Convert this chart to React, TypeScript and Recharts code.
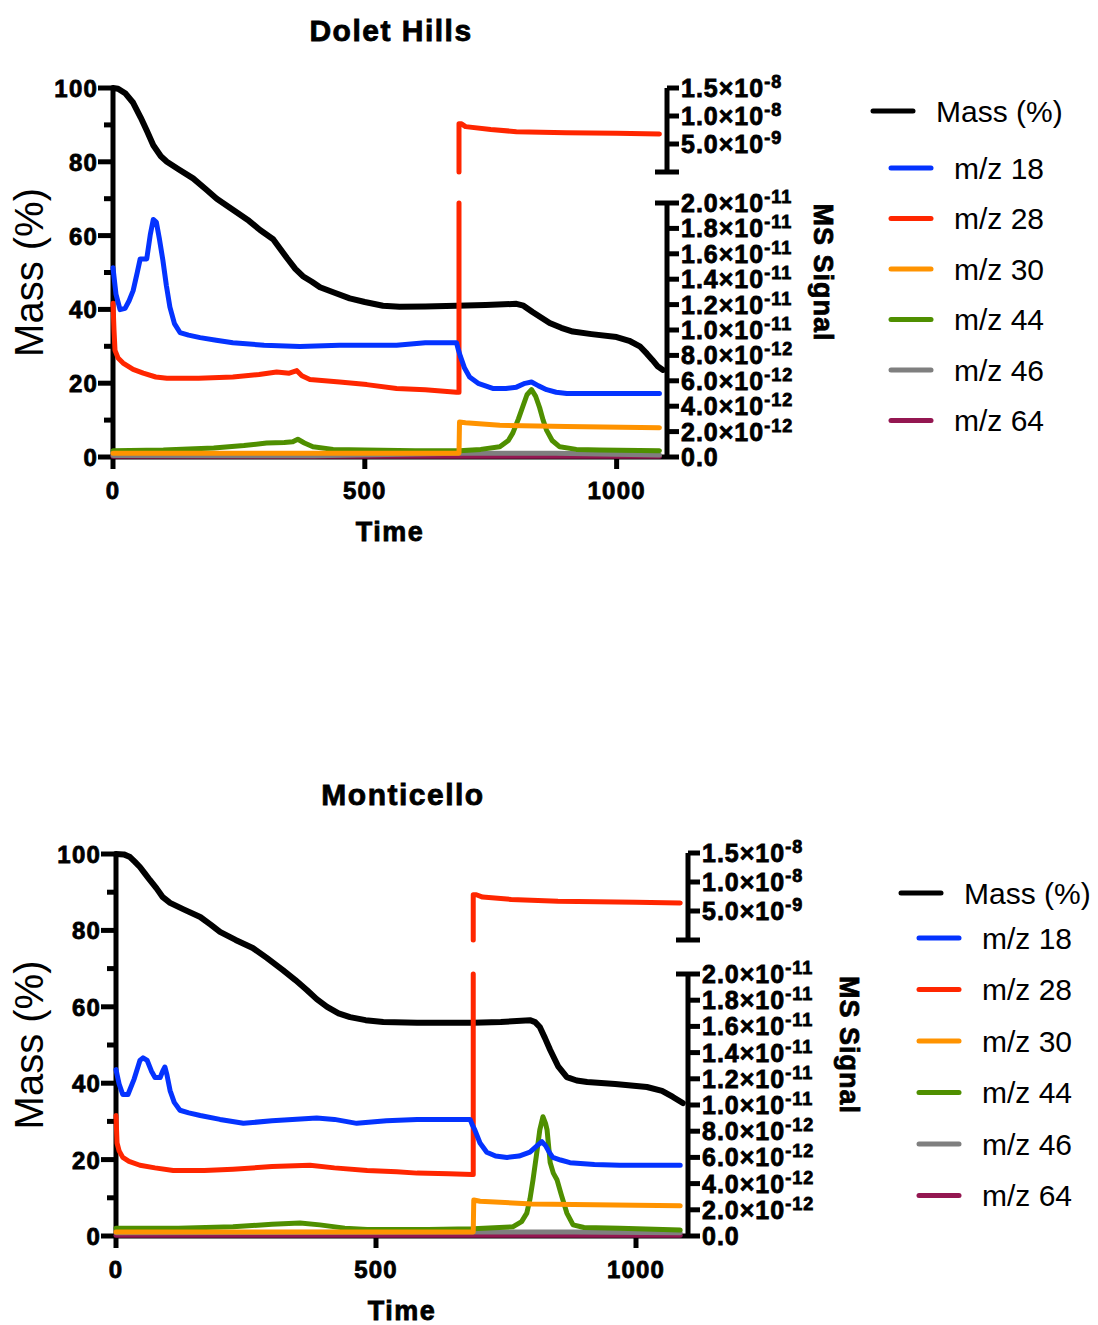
import React from 'react';
import { LineChart, Line, XAxis, YAxis } from 'recharts';

type Row = [number, number];
type Pt = { t: number; v: number };

const FONT = '"Liberation Sans", Arial, Helvetica, sans-serif';

// axis values
const timeTicks = [0, 500, 1000];
const massTicks = [0, 10, 20, 30, 40, 50, 60, 70, 80, 90, 100];
const lowTicks = [0, 2, 4, 6, 8, 10, 12, 14, 16, 18, 20]; // x 1e-12
const highTicks = [0, 5, 10, 15]; // x 1e-9
const LOW_UNIT = 1e-12;
const HIGH_UNIT = 1e-9;

const legendNames = ['Mass (%)', 'm/z 18', 'm/z 28', 'm/z 30', 'm/z 44', 'm/z 46', 'm/z 64'];
const legendColors = ['#000000', '#0433FF', '#FF2600', '#FF9300', '#4F8F00', '#7F7F7F', '#941751'];

// ---- Dolet Hills ----  (time, value)
const doletMass: Row[] = [
  [0, 100], [10, 99.8], [25, 98.5], [40, 96], [55, 92], [67, 88.5], [80, 84.5], [95, 81.5], [107, 80],
  [130, 78], [159, 75.5], [185, 72.5], [206, 70], [238, 67], [270, 64], [292, 61.5], [318, 59], [345, 54],
  [362, 51], [377, 49], [395, 47.5], [411, 46], [440, 44.5], [470, 43], [500, 42], [536, 41], [569, 40.7],
  [620, 40.8], [682, 41], [740, 41.2], [801, 41.5], [815, 41], [833, 39.3], [850, 37.8], [867, 36.3],
  [890, 35], [913, 34], [950, 33.3], [1000, 32.5], [1025, 31.5], [1046, 30], [1060, 28], [1071, 26.3],
  [1082, 24.5], [1092, 23.6],
];
const doletM18: Row[] = [
  [0, 14.9], [6, 12.8], [14, 11.6], [24, 11.7], [32, 12.3], [40, 13.1], [48, 14.5], [54, 15.6], [62, 15.6],
  [67, 15.6], [74, 17.5], [80, 18.7], [86, 18.5], [92, 17.2], [99, 15.5], [106, 13.5], [113, 11.8],
  [122, 10.5], [133, 9.8], [150, 9.6], [173, 9.4], [205, 9.2], [238, 9.0], [300, 8.8], [371, 8.7],
  [450, 8.8], [563, 8.8], [620, 9.0], [682, 9.0], [686, 8.4], [690, 7.9], [698, 7.0], [708, 6.3],
  [725, 5.8], [754, 5.4], [780, 5.4], [801, 5.5], [818, 5.8], [831, 5.9], [845, 5.6], [861, 5.3],
  [880, 5.1], [901, 5.0], [1000, 5.0], [1085, 5.0],
];
const doletM28Low: Row[] = [
  [0, 12.1], [2, 10], [4, 8.4], [10, 7.8], [20, 7.4], [40, 6.9], [60, 6.6], [85, 6.3], [107, 6.2],
  [170, 6.2], [238, 6.3], [290, 6.5], [325, 6.7], [350, 6.6], [365, 6.8], [375, 6.4], [391, 6.1],
  [450, 5.9], [504, 5.7], [563, 5.4], [620, 5.3], [682, 5.1], [687, 5.1], [687, 20],
];
const doletM28High: Row[] = [
  [687, 0], [687, 8.6], [692, 8.6], [700, 8.1], [750, 7.6], [801, 7.2], [900, 7.0], [1000, 6.9], [1085, 6.8],
];
const doletM30: Row[] = [
  [0, 0.3], [300, 0.3], [687, 0.3], [688, 2.75], [700, 2.7], [768, 2.5], [900, 2.4], [1085, 2.3],
];
const doletM44: Row[] = [
  [0, 0.5], [100, 0.55], [200, 0.7], [260, 0.9], [305, 1.1], [340, 1.15], [357, 1.2], [367, 1.4],
  [380, 1.1], [397, 0.8], [437, 0.6], [500, 0.55], [600, 0.5], [688, 0.5], [730, 0.6], [768, 0.8],
  [785, 1.3], [794, 1.9], [805, 3.0], [813, 3.9], [822, 4.9], [831, 5.3], [839, 4.8], [847, 3.9],
  [854, 2.9], [861, 2.1], [872, 1.3], [887, 0.8], [920, 0.6], [966, 0.55], [1085, 0.5],
];
const doletM46: Row[] = [[0, 0.12], [400, 0.1], [688, 0.3], [880, 0.3], [1085, 0.15]];
const doletM64: Row[] = [[0, 0.05], [500, 0.05], [1085, 0.05]];

// ---- Monticello ----
const montiMass: Row[] = [
  [0, 100], [15, 99.9], [27, 99.2], [36, 98], [46, 96.6], [55, 95], [65, 93.2], [78, 91], [90, 88.7],
  [104, 87.2], [130, 85.5], [162, 83.5], [182, 81.5], [200, 79.6], [230, 77.5], [263, 75.4], [290, 72.8],
  [321, 69.6], [345, 67], [367, 64.4], [386, 62], [406, 60], [428, 58.3], [450, 57.3], [480, 56.5],
  [514, 56], [579, 55.8], [640, 55.8], [687, 55.8], [740, 56], [796, 56.5], [806, 56], [815, 54.7],
  [825, 51.8], [835, 48.7], [850, 44.5], [867, 41.6], [886, 40.7], [906, 40.3], [960, 39.8], [1021, 39],
  [1050, 38], [1071, 36.4], [1090, 34.8],
];
const montiM18: Row[] = [
  [0, 12.7], [6, 11.6], [13, 10.8], [23, 10.8], [35, 12], [46, 13.4], [52, 13.6], [60, 13.4], [68, 12.6],
  [75, 12.1], [85, 12.1], [90, 12.6], [94, 12.9], [98, 12.3], [104, 11.1], [112, 10.2], [123, 9.6],
  [140, 9.4], [162, 9.2], [200, 8.9], [245, 8.6], [300, 8.8], [386, 9.0], [420, 8.9], [463, 8.6],
  [520, 8.8], [579, 8.9], [640, 8.9], [681, 8.9], [685, 8.5], [690, 8.1], [700, 7.1], [713, 6.4],
  [730, 6.1], [752, 6.0], [775, 6.1], [796, 6.4], [810, 6.9], [819, 7.2], [826, 6.9], [833, 6.4],
  [840, 6.0], [855, 5.8], [873, 5.6], [920, 5.45], [969, 5.4], [1085, 5.4],
];
const montiM28Low: Row[] = [
  [0, 9.2], [2, 7.1], [6, 6.5], [13, 6.0], [25, 5.7], [46, 5.4], [75, 5.2], [110, 5.0], [170, 5.0],
  [225, 5.1], [300, 5.3], [373, 5.4], [420, 5.2], [483, 5.0], [540, 4.9], [579, 4.8], [640, 4.75],
  [685, 4.7], [687, 4.7], [687, 20],
];
const montiM28High: Row[] = [
  [687, 0], [687, 7.8], [693, 7.8], [705, 7.4], [760, 7.0], [850, 6.7], [1000, 6.5], [1085, 6.4],
];
const montiM30: Row[] = [
  [0, 0.3], [687, 0.3], [688, 2.75], [700, 2.65], [800, 2.45], [1000, 2.35], [1085, 2.3],
];
const montiM44: Row[] = [
  [0, 0.6], [120, 0.6], [225, 0.7], [300, 0.9], [354, 1.0], [392, 0.85], [440, 0.6], [483, 0.5],
  [600, 0.5], [687, 0.55], [763, 0.7], [780, 1.1], [790, 1.75], [796, 2.8], [802, 4.3], [809, 6.3],
  [815, 8.1], [821, 9.1], [826, 8.6], [829, 8.1], [835, 5.6], [841, 4.8], [848, 4.3], [856, 3.2],
  [867, 1.75], [879, 0.85], [900, 0.65], [969, 0.6], [1085, 0.45],
];
const montiM46: Row[] = [[0, 0.25], [687, 0.3], [880, 0.3], [1085, 0.25]];
const montiM64: Row[] = [[0, 0.05], [500, 0.05], [1085, 0.05]];

const pts = (rows: Row[]): Pt[] => rows.map(([t, v]) => ({ t, v }));

interface Geo {
  plotLeft: number; plotRight: number; massTop: number; massBottom: number;
  lowTop: number; highTop: number; highBottom: number;
  titleX: number; titleY: number; msLabelX: number;
  legendX: number; legendY0: number; legendY1: number; legendGap: number;
}
interface PanelData {
  mass: Row[]; m18: Row[]; m28Low: Row[]; m28High: Row[]; m30: Row[]; m44: Row[]; m46: Row[]; m64: Row[];
}

// heavy bold look of the original: bold face plus a thin outline
const heavy: React.CSSProperties = {
  fontFamily: FONT, fontWeight: 700, fill: '#000', stroke: '#000', strokeWidth: 0.8, letterSpacing: 1.2,
};
const boldTick: React.CSSProperties = { ...heavy, fontSize: 24 };
const msLabelStyle: React.CSSProperties = { ...heavy, fontSize: 25, letterSpacing: 1 };
const axisStroke = { stroke: '#000', strokeWidth: 5 };
const abs: React.CSSProperties = { position: 'absolute', left: 0, top: 0 };

const sci = (x: number) => {
  const exp = Math.floor(Math.log10(x) + 1e-9);
  return { mant: (x / Math.pow(10, exp)).toFixed(1), exp };
};

const massTick = (axisX: number) => (p: any) => {
  const v = p.payload.value;
  const major = v % 20 === 0;
  return (
    <g>
      <line x1={axisX - (major ? 15 : 9)} x2={axisX} y1={p.y} y2={p.y} stroke="#000" strokeWidth={5} />
      {major && (
        <text x={axisX - 15} y={p.y + 9} textAnchor="end" style={boldTick}>{v}</text>
      )}
    </g>
  );
};

const timeTick = (p: any) => (
  <text x={p.x} y={p.y + 17} textAnchor="middle" style={boldTick}>{p.payload.value}</text>
);

const msTick = (axisX: number, unit: number, cap: number, capLabel: boolean) => (p: any) => {
  const v = p.payload.value;
  const isCap = v === cap;
  let label: React.ReactNode = null;
  if (!isCap || capLabel) {
    if (v === 0) {
      label = <text x={axisX + 14} y={p.y + 9} style={msLabelStyle}>0.0</text>;
    } else {
      const s = sci(v * unit);
      label = (
        <text x={axisX + 14} y={p.y + 9} style={msLabelStyle}>
          <tspan>{s.mant}×10</tspan>
          <tspan dy={-9} style={{ fontSize: 18 }}>{s.exp}</tspan>
        </text>
      );
    }
  }
  return (
    <g>
      <line x1={isCap ? axisX - 12 : axisX} x2={axisX + 12} y1={p.y} y2={p.y} stroke="#000" strokeWidth={5} />
      {label}
    </g>
  );
};

const lineBase = {
  type: 'linear' as const,
  dataKey: 'v',
  dot: false,
  activeDot: false,
  isAnimationActive: false,
  strokeWidth: 5,
  strokeLinecap: 'round' as const,
  strokeLinejoin: 'round' as const,
};

function Panel({ title, g, d }: { title: string; g: Geo; d: PanelData }) {
  const W1 = g.plotRight + 20;
  const W2 = g.plotRight + 200;
  const cy = (g.massTop + g.massBottom) / 2;
  return (
    <>
      <svg style={abs} width={1098} height={1325}>
        <text x={g.titleX} y={g.titleY + 11} textAnchor="middle" style={{ ...heavy, fontSize: 30, letterSpacing: 1.5 }}>{title}</text>
        <text x={(g.plotLeft + g.plotRight) / 2} y={g.massBottom + 84} textAnchor="middle" style={{ ...heavy, fontSize: 27, letterSpacing: 1.5 }}>Time</text>
        <text x={43} y={cy} transform={`rotate(-90 43 ${cy})`} textAnchor="middle" style={{ fontFamily: FONT, fontSize: 40 }}>Mass (%)</text>
        <text x={g.msLabelX} y={cy} transform={`rotate(90 ${g.msLabelX} ${cy})`} textAnchor="middle" style={{ ...heavy, fontSize: 27, letterSpacing: 1 }}>MS Signal</text>
        {legendNames.map((name, i) => {
          const y = i === 0 ? g.legendY0 : g.legendY1 + (i - 1) * g.legendGap;
          const x0 = g.legendX + (i === 0 ? 0 : 18);
          return (
            <g key={name}>
              <line x1={x0 + 2} x2={x0 + 42} y1={y} y2={y} stroke={legendColors[i]} strokeWidth={5} strokeLinecap="round" />
              <text x={x0 + 65} y={y + 10.5} style={{ fontFamily: FONT, fontSize: 30 }}>{name}</text>
            </g>
          );
        })}
      </svg>

      {/* mass + time axes */}
      <div style={abs}>
        <LineChart width={W1} height={g.massBottom + 60} margin={{ top: g.massTop, right: 20, bottom: 0, left: g.plotLeft - 90 }}>
          <XAxis type="number" dataKey="t" domain={[0, 1100]} ticks={timeTicks} interval={0} height={60}
            tickSize={12} tickMargin={13} axisLine={axisStroke} tickLine={axisStroke} tick={timeTick} />
          <YAxis yAxisId="mass" type="number" domain={[0, 100]} ticks={massTicks} interval={0} width={90}
            axisLine={axisStroke} tickLine={false} tickSize={15} tickMargin={2} tick={massTick(g.plotLeft)} />
          <Line yAxisId="mass" data={pts(d.mass)} {...lineBase} stroke={legendColors[0]} strokeWidth={6} />
        </LineChart>
      </div>

      {/* lower MS segment */}
      <div style={abs}>
        <LineChart width={W2} height={g.massBottom + 20} margin={{ top: g.lowTop, right: 50, bottom: 20, left: g.plotLeft }}>
          <XAxis type="number" dataKey="t" domain={[0, 1100]} hide />
          <YAxis yAxisId="low" orientation="right" type="number" domain={[0, 20]} ticks={lowTicks} interval={0} width={150}
            axisLine={axisStroke} tickLine={false} tickSize={11} tickMargin={2} tick={msTick(g.plotRight, LOW_UNIT, 20, true)} />
          <Line yAxisId="low" data={pts(d.m64)} {...lineBase} stroke={legendColors[6]} />
          <Line yAxisId="low" data={pts(d.m46)} {...lineBase} stroke={legendColors[5]} />
          <Line yAxisId="low" data={pts(d.m44)} {...lineBase} stroke={legendColors[4]} />
          <Line yAxisId="low" data={pts(d.m30)} {...lineBase} stroke={legendColors[3]} />
          <Line yAxisId="low" data={pts(d.m28Low)} {...lineBase} stroke={legendColors[2]} />
          <Line yAxisId="low" data={pts(d.m18)} {...lineBase} stroke={legendColors[1]} />
        </LineChart>
      </div>

      {/* upper MS segment */}
      <div style={abs}>
        <LineChart width={W2} height={g.highBottom + 20} margin={{ top: g.highTop, right: 50, bottom: 20, left: g.plotLeft }}>
          <XAxis type="number" dataKey="t" domain={[0, 1100]} hide />
          <YAxis yAxisId="high" orientation="right" type="number" domain={[0, 15]} ticks={highTicks} interval={0} width={150}
            axisLine={axisStroke} tickLine={false} tickSize={11} tickMargin={2} tick={msTick(g.plotRight, HIGH_UNIT, 0, false)} />
          <Line yAxisId="high" data={pts(d.m28High)} {...lineBase} stroke={legendColors[2]} />
        </LineChart>
      </div>
    </>
  );
}

const doletGeo: Geo = {
  plotLeft: 113, plotRight: 667, massTop: 88, massBottom: 457, lowTop: 203, highTop: 88, highBottom: 172,
  titleX: 391, titleY: 30, msLabelX: 814, legendX: 871, legendY0: 111, legendY1: 168, legendGap: 50.5,
};
const montiGeo: Geo = {
  plotLeft: 116, plotRight: 688, massTop: 854, massBottom: 1236, lowTop: 974, highTop: 853, highBottom: 940,
  titleX: 403, titleY: 794, msLabelX: 840, legendX: 899, legendY0: 893, legendY1: 938, legendGap: 51.5,
};

export default function App() {
  return (
    <div style={{ position: 'absolute', left: 0, top: 0, width: 1098, height: 1325, background: '#fff' }}>
      <Panel title="Dolet Hills" g={doletGeo}
        d={{ mass: doletMass, m18: doletM18, m28Low: doletM28Low, m28High: doletM28High, m30: doletM30, m44: doletM44, m46: doletM46, m64: doletM64 }} />
      <Panel title="Monticello" g={montiGeo}
        d={{ mass: montiMass, m18: montiM18, m28Low: montiM28Low, m28High: montiM28High, m30: montiM30, m44: montiM44, m46: montiM46, m64: montiM64 }} />
    </div>
  );
}
